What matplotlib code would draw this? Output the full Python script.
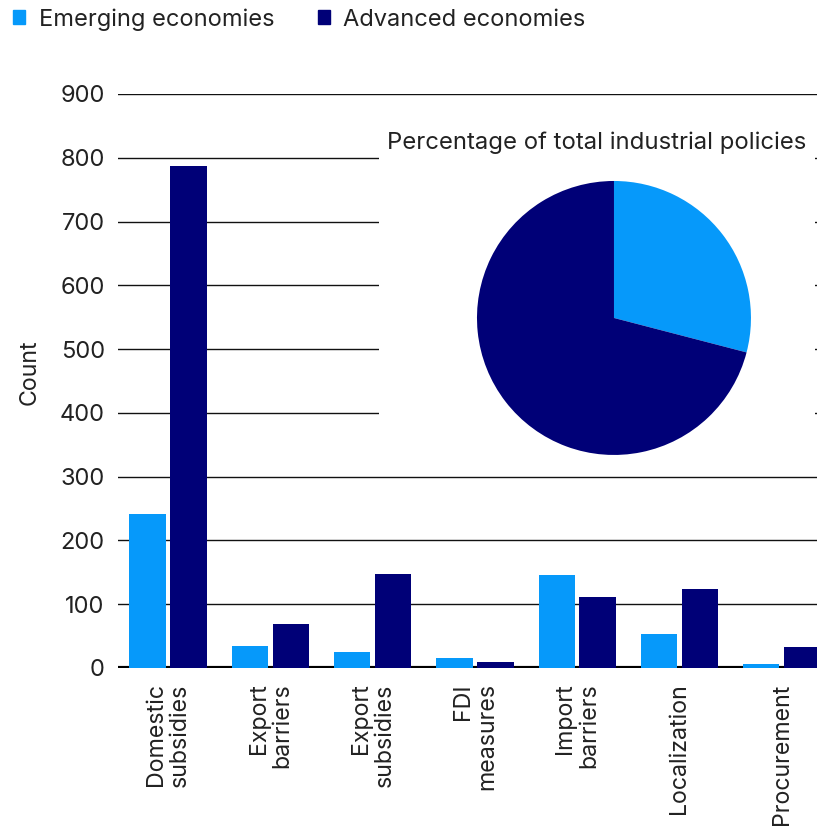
import matplotlib
matplotlib.use("Agg")
import matplotlib.pyplot as plt
from matplotlib.patches import Patch
import numpy as np

plt.rcParams["font.family"] = ["Inter", "DejaVu Sans"]

categories = ["Domestic\nsubsidies", "Export\nbarriers", "Export\nsubsidies", "FDI\nmeasures",
              "Import\nbarriers", "Localization", "Procurement"]
emerging = [242, 35, 25, 16, 146, 53, 7]
advanced = [787, 69, 147, 9, 111, 124, 33]
series_names = ["Emerging economies", "Advanced economies"]
yticks = [0, 100, 200, 300, 400, 500, 600, 700, 800, 900]

c_em = "#0699FA"
c_adv = "#000077"
txt = "#222222"

fig = plt.figure(figsize=(8.17, 8.26), dpi=100)
ax = fig.add_axes([0.1444, 0.1913, 0.8556, 0.6949])

x = np.arange(len(categories))
w = 0.355
ax.bar(x - 0.2, emerging, w, color=c_em, zorder=3)
ax.bar(x + 0.2, advanced, w, color=c_adv, zorder=3)

ax.set_xlim(-0.49, 6.345)
ax.set_ylim(0, 900)
ax.set_yticks(yticks)
ax.grid(axis="y", color="#111111", linewidth=1.0, zorder=0)
ax.axhline(0, color="black", linewidth=3, zorder=2)
for s in ax.spines.values():
    s.set_visible(False)
ax.tick_params(axis="y", length=0, pad=9.5, labelsize=17, labelcolor=txt)
ax.set_xticks(x)
ax.set_xticklabels(categories, rotation=90, fontsize=16.7, color=txt, va="top",
                   ha="center", multialignment="right", linespacing=1.1)
ax.tick_params(axis="x", length=0, pad=11)
ax.set_ylabel("Count", fontsize=16.7, color=txt)
ax.yaxis.set_label_coords(-0.111, 0.516)

handles = [Patch(color=c_em), Patch(color=c_adv)]
fig.legend(handles, series_names, loc="upper left", bbox_to_anchor=(-0.01, 1.016),
           ncol=2, frameon=False, fontsize=17.0, handlelength=0.5, handleheight=0.5,
           handletextpad=0.58, columnspacing=1.85, labelcolor=txt)

# white panel behind the pie, hides gridlines there
bg = fig.add_axes([0.464, 0.431, 0.5335, 0.448])
bg.set_facecolor("white")
bg.set_xticks([])
bg.set_yticks([])
for s in bg.spines.values():
    s.set_visible(False)
bg.text(0.5, 0.885, "Percentage of total industrial policies", transform=bg.transAxes,
        ha="center", va="center", fontsize=17.2, color=txt)

pax = fig.add_axes([0.5838, 0.4492, 0.3354, 0.3317])
pax.pie([sum(emerging), sum(advanced)], colors=[c_em, c_adv], startangle=90,
        counterclock=False)
pax.set_xlim(-1, 1)
pax.set_ylim(-1, 1)

fig.savefig("out.png", dpi=100)
